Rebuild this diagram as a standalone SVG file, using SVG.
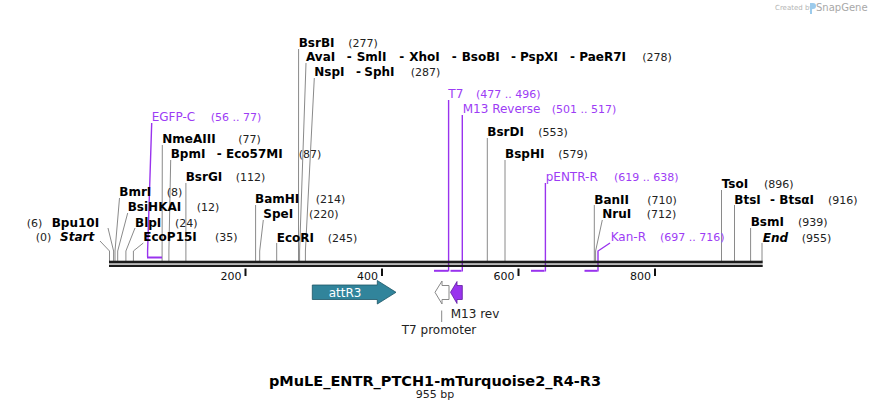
<svg xmlns="http://www.w3.org/2000/svg" width="872" height="411" viewBox="0 0 872 411">
<style>
text{font-family:"DejaVu Sans",Verdana,sans-serif}
.n{font-size:12px;font-weight:bold;fill:#000}
.i{font-style:italic}
.p{font-size:11px;fill:#222}
.f{font-size:12px;fill:#9d3cf5}
.fp{font-size:11px;fill:#9d3cf5}
.s{fill:none;stroke:#8a8a8a;stroke-width:1}
.pl{fill:none;stroke:#9933ee;stroke-width:1.4}
.pb{fill:none;stroke:#9933ee;stroke-width:2}
.tk{font-size:11px;fill:#111;text-anchor:end}
</style>
<rect width="872" height="411" fill="#fff"/>
<g id="watermark">
<text x="775" y="10" font-size="7" fill="#b4b4b4">Created by</text>
<path d="M810,3 h3 a3,3 0 0 1 0,6 h-1 v5 h-2 z" fill="#9ccbec"/>
<text x="816" y="11" font-size="10" fill="#a8a8a8">SnapGene</text>
</g>
<g id="connectors">
<path class="s" d="M100,241 L109.5,251 V261"/>
<path class="s" d="M108,228 L113.6,251 V261"/>
<path class="s" d="M119.5,198 L115,251 V261"/>
<path class="s" d="M127.7,213 L117.7,251 V261"/>
<path class="s" d="M135,228 L125.9,251 V261"/>
<path class="s" d="M143.3,243 L133.4,251 V261"/>
<path class="s" d="M162.3,145 L162.1,251 V261"/>
<path class="s" d="M170.7,160 L168.9,251 V261"/>
<path class="s" d="M185.9,183 V261"/>
<path class="s" d="M255.6,205 V261"/>
<path class="s" d="M263.3,220 L259.7,251 V261"/>
<path class="s" d="M276.7,243 V261"/>
<path class="s" d="M298.6,49 L298.5,251 V261"/>
<path class="s" d="M306,63 L299.6,251 V261"/>
<path class="s" d="M314.3,78 L305.4,251 V261"/>
<path class="s" d="M487.3,138 V261"/>
<path class="s" d="M505,160 V261"/>
<path class="s" d="M594.3,205 V261"/>
<path class="s" d="M602.3,220 L595.6,251 V261"/>
<path class="s" d="M721.5,190 V261"/>
<path class="s" d="M734.5,205 V261"/>
<path class="s" d="M750.6,228 V261"/>
<path class="s" d="M762,243 V261"/>
<path class="pl" d="M151.7,123 L147.6,251 V257"/>
<path class="pb" d="M147,257.5 H162"/>
<path class="pl" d="M448.6,100 V271.5"/>
<path class="pb" d="M434,270.8 H448"/>
<path class="pl" d="M462.3,115 V271.5"/>
<path class="pb" d="M450.5,270.8 H461.5"/>
<path class="pl" d="M545.4,183 V271.5"/>
<path class="pb" d="M531,270.8 H544.5"/>
<path class="pl" d="M610,243 L598,251 V271.5"/>
<path class="pb" d="M584.5,270.8 H597.5"/>
<path d="M441.7,310.5 V322" stroke="#888" stroke-width="1"/>
</g>
<g id="backbone">
<rect x="109" y="260.7" width="653.7" height="2.7" fill="#1c1c1c"/>
<rect x="109" y="264.7" width="653.7" height="2.3" fill="#1c1c1c"/>
<rect x="244.5" y="268.5" width="2" height="7.5" fill="#111"/>
<rect x="381" y="268.5" width="2" height="7.5" fill="#111"/>
<rect x="517.5" y="268.5" width="2" height="7.5" fill="#111"/>
<rect x="654" y="268.5" width="2" height="7.5" fill="#111"/>
<text class="tk" x="241.5" y="279.5">200</text>
<text class="tk" x="378" y="279.5">400</text>
<text class="tk" x="514.5" y="279.5">600</text>
<text class="tk" x="651" y="279.5">800</text>
</g>
<g id="BsrBI"><text class="n" x="298.7" y="46.5">BsrBI</text><text class="p" x="348.3" y="46.5">(277)</text></g>
<g id="AvaI"><text class="n" y="61"><tspan x="306">AvaI</tspan><tspan x="346.7">-</tspan><tspan x="356.7">SmlI</tspan><tspan x="399.3">-</tspan><tspan x="409.3">XhoI</tspan><tspan x="451.7">-</tspan><tspan x="461.7">BsoBI</tspan><tspan x="511">-</tspan><tspan x="520">PspXI</tspan><tspan x="570">-</tspan><tspan x="579.3">PaeR7I</tspan></text><text class="p" x="642.3" y="61">(278)</text></g>
<g id="NspI"><text class="n" y="76"><tspan x="314.3">NspI</tspan><tspan x="356">-</tspan><tspan x="364.3">SphI</tspan></text><text class="p" x="410.7" y="76">(287)</text></g>
<g id="T7"><text class="f" x="448.3" y="98">T7</text><text class="fp" x="476" y="98">(477 .. 496)</text></g>
<g id="M13Reverse"><text class="f" x="462.7" y="113.3">M13 Reverse</text><text class="fp" x="551.7" y="113.3">(501 .. 517)</text></g>
<g id="EGFP-C"><text class="f" x="151.7" y="121">EGFP-C</text><text class="fp" x="210.7" y="121">(56 .. 77)</text></g>
<g id="BsrDI"><text class="n" x="487.3" y="136">BsrDI</text><text class="p" x="538.3" y="136">(553)</text></g>
<g id="NmeAIII"><text class="n" x="162.3" y="142.7">NmeAIII</text><text class="p" x="238.3" y="142.7">(77)</text></g>
<g id="BpmI"><text class="n" y="157.7"><tspan x="170.7">BpmI</tspan><tspan x="216.7">-</tspan><tspan x="226">Eco57MI</tspan></text><text class="p" x="298.7" y="157.7">(87)</text></g>
<g id="BspHI"><text class="n" x="505" y="158.3">BspHI</text><text class="p" x="558.3" y="158.3">(579)</text></g>
<g id="BsrGI"><text class="n" x="185.7" y="181">BsrGI</text><text class="p" x="235.7" y="181">(112)</text></g>
<g id="pENTR-R"><text class="f" x="545.7" y="181">pENTR-R</text><text class="fp" x="614" y="181">(619 .. 638)</text></g>
<g id="TsoI"><text class="n" x="721.7" y="188.3">TsoI</text><text class="p" x="764" y="188.3">(896)</text></g>
<g id="BmrI"><text class="n" x="119.3" y="196">BmrI</text><text class="p" x="166.7" y="196">(8)</text></g>
<g id="BamHI"><text class="n" x="255" y="203.3">BamHI</text><text class="p" x="315.7" y="203.3">(214)</text></g>
<g id="BanII"><text class="n" x="594.3" y="203.6">BanII</text><text class="p" x="647.3" y="203.6">(710)</text></g>
<g id="BtsI"><text class="n" y="203.6"><tspan x="734.3">BtsI</tspan><tspan x="770">-</tspan><tspan x="779.3">BtsαI</tspan></text><text class="p" x="828" y="203.6">(916)</text></g>
<g id="BsiHKAI"><text class="n" x="127.7" y="211">BsiHKAI</text><text class="p" x="196.7" y="211">(12)</text></g>
<g id="SpeI"><text class="n" x="263.3" y="218.3">SpeI</text><text class="p" x="309" y="218.3">(220)</text></g>
<g id="NruI"><text class="n" x="602.3" y="218.3">NruI</text><text class="p" x="646.7" y="218.3">(712)</text></g>
<g id="Bpu10I"><text class="p" x="26.7" y="227">(6)</text><text class="n" x="51.7" y="227">Bpu10I</text></g>
<g id="BlpI"><text class="n" x="135" y="227">BlpI</text><text class="p" x="175" y="227">(24)</text></g>
<g id="BsmI"><text class="n" x="750.7" y="226.3">BsmI</text><text class="p" x="798" y="226.3">(939)</text></g>
<g id="Start"><text class="p" x="35.7" y="241">(0)</text><text class="n i" x="60" y="241">Start</text></g>
<g id="EcoP15I"><text class="n" x="143.3" y="241">EcoP15I</text><text class="p" x="215" y="241">(35)</text></g>
<g id="EcoRI"><text class="n" x="276.7" y="241.6">EcoRI</text><text class="p" x="327.7" y="241.6">(245)</text></g>
<g id="Kan-R"><text class="f" x="610.7" y="241">Kan-R</text><text class="fp" x="660" y="241">(697 .. 716)</text></g>
<g id="End"><text class="n i" x="762.7" y="241.6">End</text><text class="p" x="801.7" y="241.6">(955)</text></g>
<g id="attR3">
<polygon points="312.3,285 377.3,285 377.3,280.5 396,292.3 377.3,304 377.3,299.5 312.3,299.5" fill="#31849b" stroke="#1d5566" stroke-width="0.8"/>
<text x="345" y="296.7" font-size="12" fill="#fff" text-anchor="middle">attR3</text>
</g>
<g id="T7promoter">
<polygon points="435,292.3 442,281 442,285.5 449,285.5 449,299.5 442,299.5 442,304" fill="#fff" stroke="#888" stroke-width="1"/>
<text x="439" y="334.3" font-size="12" fill="#222" text-anchor="middle">T7 promoter</text>
</g>
<g id="M13rev">
<polygon points="450.5,292.3 457,281.5 457,285.5 462.3,285.5 462.3,299.5 457,299.5 457,303.5" fill="#9933ee" stroke="#5e1aa0" stroke-width="0.8"/>
<text x="450.7" y="317.5" font-size="12" fill="#222">M13 rev</text>
</g>
<g id="title">
<text x="435" y="386" font-size="14.5" font-weight="bold" fill="#000" text-anchor="middle">pMuLE_ENTR_PTCH1-mTurquoise2_R4-R3</text>
<text x="435" y="398" font-size="11" fill="#222" text-anchor="middle">955 bp</text>
</g>
</svg>
